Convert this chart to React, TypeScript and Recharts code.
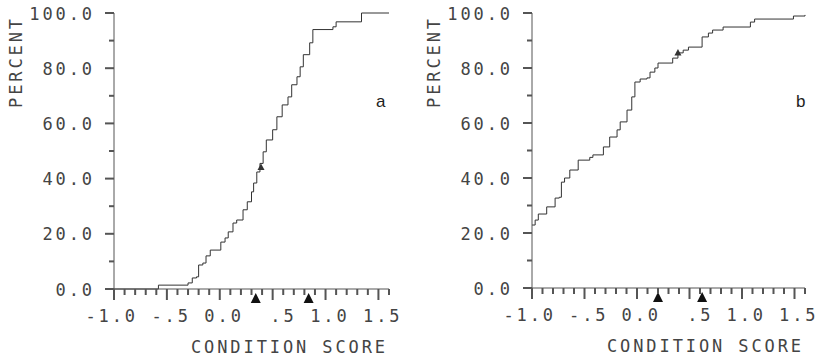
import { ComposedChart, Line, Scatter, XAxis, YAxis } from 'recharts';

// axis ticks (minor every 0.1 / 10, labelled ones below)
const xTicks = [-1.0, -0.9, -0.8, -0.7, -0.6, -0.5, -0.4, -0.3, -0.2, -0.1, 0.0, 0.1, 0.2, 0.3, 0.4, 0.5, 0.6, 0.7, 0.8, 0.9, 1.0, 1.1, 1.2, 1.3, 1.4, 1.5, 1.6];
const xLabelValues = [-1.0, -0.5, 0.0, 0.5, 1.0, 1.5];
const xLabelTexts = ['-1.0', '-.5', '0.0', '.5', '1.0', '1.5'];
const yTicks = [0, 10, 20, 30, 40, 50, 60, 70, 80, 90, 100];
const yLabelValues = [0, 20, 40, 60, 80, 100];
const yLabelTexts = ['0.0', '20.0', '40.0', '60.0', '80.0', '100.0'];

// panel a: cumulative percent (step corners)
const curveA = [
  { x: -1.0, y: 0 }, { x: -0.58, y: 1.4 }, { x: -0.3, y: 2.2 }, { x: -0.26, y: 4.0 },
  { x: -0.22, y: 4.4 }, { x: -0.2, y: 8.7 }, { x: -0.16, y: 9.4 }, { x: -0.13, y: 12.0 },
  { x: -0.09, y: 14.1 }, { x: 0.01, y: 17.0 }, { x: 0.05, y: 18.5 }, { x: 0.08, y: 20.7 },
  { x: 0.125, y: 23.9 }, { x: 0.16, y: 25.0 }, { x: 0.22, y: 28.7 }, { x: 0.26, y: 31.6 },
  { x: 0.3, y: 35.2 }, { x: 0.32, y: 38.4 }, { x: 0.35, y: 42.4 }, { x: 0.38, y: 45.5 },
  { x: 0.41, y: 49.7 }, { x: 0.44, y: 54.0 }, { x: 0.5, y: 57.7 }, { x: 0.54, y: 62.4 },
  { x: 0.59, y: 66.7 }, { x: 0.645, y: 69.6 }, { x: 0.68, y: 74.0 }, { x: 0.73, y: 76.9 },
  { x: 0.76, y: 80.5 }, { x: 0.79, y: 84.9 }, { x: 0.85, y: 89.2 }, { x: 0.88, y: 94.0 },
  { x: 1.07, y: 95.0 }, { x: 1.1, y: 96.8 }, { x: 1.34, y: 100 }, { x: 1.6, y: 100 },
];
const curveMarksA = [{ x: 0.39, y: 44 }];
const axisMarksA = [{ x: 0.34, y: 0 }, { x: 0.84, y: 0 }];

// panel b
const curveB = [
  { x: -1.0, y: 22.9 }, { x: -0.97, y: 24.7 }, { x: -0.94, y: 26.9 }, { x: -0.86, y: 29.5 },
  { x: -0.78, y: 32.7 }, { x: -0.74, y: 33.0 }, { x: -0.72, y: 38.5 }, { x: -0.69, y: 40.0 },
  { x: -0.64, y: 42.9 }, { x: -0.56, y: 46.5 }, { x: -0.45, y: 47.5 }, { x: -0.42, y: 48.4 },
  { x: -0.32, y: 51.3 }, { x: -0.26, y: 54.9 }, { x: -0.19, y: 57.5 }, { x: -0.16, y: 60.4 },
  { x: -0.095, y: 64.7 }, { x: -0.05, y: 69.5 }, { x: -0.02, y: 74.9 }, { x: 0.03, y: 76.0 },
  { x: 0.095, y: 76.4 }, { x: 0.124, y: 78.5 }, { x: 0.17, y: 80.0 }, { x: 0.2, y: 81.8 },
  { x: 0.34, y: 83.6 }, { x: 0.39, y: 85.5 }, { x: 0.44, y: 86.5 }, { x: 0.49, y: 87.6 },
  { x: 0.62, y: 91.3 }, { x: 0.68, y: 92.7 }, { x: 0.72, y: 93.8 }, { x: 0.82, y: 94.9 },
  { x: 1.08, y: 96.7 }, { x: 1.12, y: 97.8 }, { x: 1.49, y: 98.9 }, { x: 1.6, y: 99.3 },
];
const curveMarksB = [{ x: 0.39, y: 85.5 }];
const axisMarksB = [{ x: 0.2, y: 0 }, { x: 0.62, y: 0 }];

const W = 410;
const H = 357;
const AXIS = '#555';
const INK = '#333';
const mono = {
  fontFamily: '"DejaVu Sans Mono", monospace',
  fontSize: 17,
  letterSpacing: 2.9,
  fill: '#444',
};

const XTick = (props: any) => {
  const { x, y, payload } = props;
  const i = xLabelValues.findIndex((v) => Math.abs(v - payload.value) < 1e-6);
  const major = i >= 0;
  return (
    <g>
      <rect x={x - 1} y={y} width={2} height={major ? 11 : 6} fill={AXIS} />
      {major && (
        <text x={x + 24} y={y + 33} textAnchor='end' style={mono}>
          {xLabelTexts[i]}
        </text>
      )}
    </g>
  );
};

const YTick = (props: any) => {
  const { x, y, payload } = props;
  const i = yLabelValues.indexOf(payload.value);
  const major = i >= 0;
  const len = major ? 9 : 5;
  return (
    <g>
      <rect x={x - len} y={y - 1} width={len} height={2} fill={AXIS} />
      {major && (
        <text x={x - 19} y={y + 6.5} textAnchor='end' style={mono}>
          {yLabelTexts[i]}
        </text>
      )}
    </g>
  );
};

const xTitle = (props: any) => {
  const { x, y, width } = props.viewBox;
  return (
    <text x={x + width - 1} y={y + 64} textAnchor='end' style={mono}>
      CONDITION SCORE
    </text>
  );
};

const yTitle = (props: any) => {
  const { x, y, width } = props.viewBox;
  const tx = x + width - 92;
  const ty = y + 49;
  return (
    <text x={tx} y={ty} transform={`rotate(-90, ${tx}, ${ty})`} textAnchor='middle' style={mono}>
      PERCENT
    </text>
  );
};

const smallTriangle = (props: any) => {
  const { cx, cy } = props;
  return <path d={`M${cx},${cy - 4} L${cx + 3.5},${cy + 2.5} L${cx - 3.5},${cy + 2.5} Z`} fill={INK} />;
};

const axisTriangle = (props: any) => {
  const { cx, cy } = props;
  return <path d={`M${cx},${cy + 4} L${cx + 5},${cy + 14} L${cx - 5},${cy + 14} Z`} fill='#111' />;
};

type PanelProps = {
  curve: { x: number; y: number }[];
  curveMarks: { x: number; y: number }[];
  axisMarks: { x: number; y: number }[];
  left: number;
  yAxisWidth: number;
  marginRight: number;
  xAxisHeight: number;
};

const Panel = ({ curve, curveMarks, axisMarks, left, yAxisWidth, marginRight, xAxisHeight }: PanelProps) => (
  <div style={{ position: 'absolute', left, top: 0 }}>
    <ComposedChart width={W} height={H} margin={{ top: 13, right: marginRight, bottom: 0, left: 0 }}>
      <XAxis
        type='number'
        dataKey='x'
        domain={[-1, 1.6]}
        ticks={xTicks}
        interval={0}
        height={xAxisHeight}
        stroke={AXIS}
        tickLine={false}
        tickSize={0}
        tickMargin={0}
        tick={<XTick />}
        label={{ content: xTitle }}
      />
      <YAxis
        type='number'
        dataKey='y'
        domain={[0, 100]}
        ticks={yTicks}
        interval={0}
        width={yAxisWidth}
        stroke={AXIS}
        tickLine={false}
        tickSize={0}
        tickMargin={0}
        tick={<YTick />}
        label={{ content: yTitle }}
      />
      <Line data={curve} dataKey='y' type='stepAfter' stroke={INK} strokeWidth={1} dot={false} isAnimationActive={false} />
      <Scatter data={curveMarks} dataKey='y' shape={smallTriangle} isAnimationActive={false} />
      <Scatter data={axisMarks} dataKey='y' shape={axisTriangle} isAnimationActive={false} />
    </ComposedChart>
  </div>
);

const letterStyle = {
  position: 'absolute' as const,
  top: 92,
  fontFamily: '"Liberation Sans", Arial, sans-serif',
  fontSize: 17,
  lineHeight: '20px',
  color: '#222',
};

export default function App() {
  return (
    <div style={{ position: 'absolute', left: 0, top: 0, width: 820, height: 357 }}>
      <Panel curve={curveA} curveMarks={curveMarksA} axisMarks={axisMarksA} left={0} yAxisWidth={114} marginRight={21} xAxisHeight={68} />
      <Panel curve={curveB} curveMarks={curveMarksB} axisMarks={axisMarksB} left={410} yAxisWidth={122} marginRight={15} xAxisHeight={69} />
      <div style={{ ...letterStyle, left: 376 }}>a</div>
      <div style={{ ...letterStyle, left: 796 }}>b</div>
    </div>
  );
}
